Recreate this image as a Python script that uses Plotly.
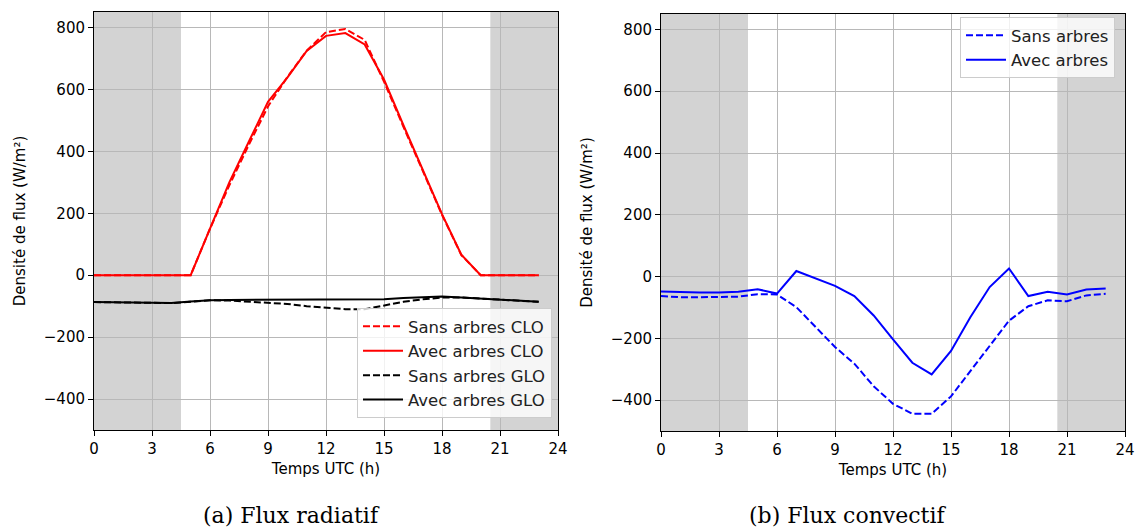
import plotly.graph_objects as go

hours = list(range(24))

# (a) flux radiatif
clo_sans = [0, 0, 0, 0, 0, 0, 150, 290, 420, 545, 640, 725, 785, 795, 760, 625, 480, 340, 195, 65, 0, 0, 0, 0]
clo_avec = [0, 0, 0, 0, 0, 0, 150, 300, 430, 560, 638, 724, 773, 782, 745, 632, 485, 340, 197, 66, 0, 0, 0, 0]
glo_sans = [-87, -88, -90, -90, -90, -86, -81, -82, -85, -88, -93, -100, -105, -110, -110, -97, -86, -78, -72, -72, -76, -80, -84, -86]
glo_avec = [-87, -88, -90, -91, -90, -85, -81, -80, -80, -80, -80, -80, -80, -80, -80, -78, -74, -71, -69, -72, -76, -80, -84, -86]

# (b) flux convectif
conv_sans = [-63, -67, -67, -67, -65, -57, -58, -99, -165, -228, -282, -355, -412, -444, -444, -388, -306, -225, -143, -96, -77, -80, -61, -56]
conv_avec = [-48, -51, -52, -52, -49, -41, -55, 18, -5, -30, -63, -126, -203, -279, -317, -241, -132, -34, 26, -63, -49, -58, -42, -39]

x_ticks = [0, 3, 6, 9, 12, 15, 18, 21, 24]
y_ticks = [-400, -200, 0, 200, 400, 600, 800]
night = [(0, 4.5), (20.5, 24)]

W, H = 1135, 527
font = "DejaVu Sans"

fig = go.Figure()

fig.add_trace(go.Scatter(x=hours, y=clo_sans, mode="lines", name="Sans arbres CLO",
                         line=dict(color="red", width=2, dash="7px,3px")))
fig.add_trace(go.Scatter(x=hours, y=clo_avec, mode="lines", name="Avec arbres CLO",
                         line=dict(color="red", width=2)))
fig.add_trace(go.Scatter(x=hours, y=glo_sans, mode="lines", name="Sans arbres GLO",
                         line=dict(color="black", width=2, dash="7px,3px")))
fig.add_trace(go.Scatter(x=hours, y=glo_avec, mode="lines", name="Avec arbres GLO",
                         line=dict(color="black", width=2)))

fig.add_trace(go.Scatter(x=hours, y=conv_sans, mode="lines", name="Sans arbres",
                         xaxis="x2", yaxis="y2", legend="legend2",
                         line=dict(color="blue", width=2, dash="7px,3px")))
fig.add_trace(go.Scatter(x=hours, y=conv_avec, mode="lines", name="Avec arbres",
                         xaxis="x2", yaxis="y2", legend="legend2",
                         line=dict(color="blue", width=2)))

for xr, yr in [("x", "y"), ("x2", "y2")]:
    for a, b in night:
        fig.add_shape(type="rect", xref=xr, yref=yr + " domain", x0=a, x1=b, y0=0, y1=1,
                      fillcolor="#d3d3d3", line_width=0, layer="below")

xcommon = dict(range=[0, 24], tickvals=x_ticks, showgrid=True, gridcolor="#b8b8b8", gridwidth=1,
               zeroline=False, showline=True, linecolor="black", linewidth=1, mirror=True,
               ticks="outside", ticklen=5, tickcolor="black", automargin=False,
               tickfont=dict(family=font, size=15, color="black"),
               title=dict(text="Temps UTC (h)", font=dict(family=font, size=15, color="black"), standoff=6))
ycommon = dict(range=[-500, 850], tickvals=y_ticks, showgrid=True, gridcolor="#b8b8b8", gridwidth=1,
               zeroline=False, showline=True, linecolor="black", linewidth=1, mirror=True,
               ticks="outside", ticklen=5, tickcolor="black", automargin=False,
               tickfont=dict(family=font, size=15, color="black"),
               title=dict(text="Densité de flux (W/m²)", font=dict(family=font, size=15, color="black"), standoff=14))

legend_style = dict(bgcolor="rgba(255,255,255,0.8)", bordercolor="#cccccc", borderwidth=1,
                    itemwidth=40, font=dict(family=font, size=16.5, color="#222222"))

fig.update_layout(
    width=W, height=H,
    margin=dict(l=0, r=0, t=0, b=0),
    paper_bgcolor="white", plot_bgcolor="white",
    xaxis=dict(xcommon, domain=[94 / W, 558 / W], anchor="y"),
    yaxis=dict(ycommon, domain=[(H - 430) / H, (H - 12) / H], anchor="x"),
    xaxis2=dict(xcommon, domain=[661 / W, 1125 / W], anchor="y2"),
    yaxis2=dict(ycommon, domain=[(H - 431) / H, (H - 14) / H], anchor="x2"),
    legend=dict(legend_style, x=552 / W, y=(H - 418) / H, xanchor="right", yanchor="bottom"),
    legend2=dict(legend_style, x=1115 / W, y=(H - 17) / H, xanchor="right", yanchor="top"),
    showlegend=True,
)

fig.add_annotation(text="(a) Flux radiatif", x=291 / W, y=(H - 515) / H, xref="paper", yref="paper",
                   xanchor="center", yanchor="middle", showarrow=False,
                   font=dict(family="DejaVu Serif", size=22, color="black"))
fig.add_annotation(text="(b) Flux convectif", x=847 / W, y=(H - 515) / H, xref="paper", yref="paper",
                   xanchor="center", yanchor="middle", showarrow=False,
                   font=dict(family="DejaVu Serif", size=22, color="black"))

# the page's default body margin would shift the figure by 8px
fig.write_html("out.html", config={"displayModeBar": False},
               post_script="document.body.style.margin='0px';")
